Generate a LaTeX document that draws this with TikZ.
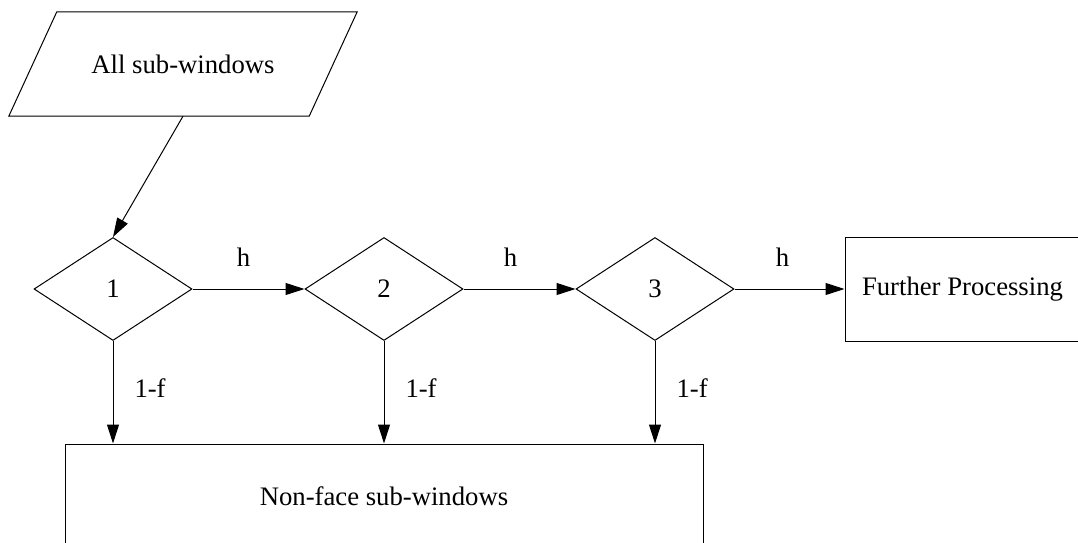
\documentclass[tikz,border=0pt]{standalone}
\usepackage{fontspec}
\setmainfont{Liberation Serif}
\usetikzlibrary{shapes.geometric,arrows.meta}
\begin{document}
\begin{tikzpicture}[x=1pt,y=-1pt,
  every node/.style={font=\fontsize{26.7pt}{30pt}\selectfont},
  link/.style={line width=1pt,-{Triangle[length=19pt,width=12pt]}},
  dec/.style={draw,line width=1pt,diamond,inner sep=0pt,minimum width=158pt,minimum height=103pt},
  boxn/.style={draw,line width=1pt,rectangle,inner sep=0pt},
  lbl/.style={inner sep=0pt}]
\clip (0,0) rectangle (1078,543);
\fill[white] (0,0) rectangle (1078,543);
% input parallelogram
\node[lbl,minimum width=300pt,minimum height=104pt] (src) at (183,64) {All sub-windows};
\draw[line width=1pt] ([xshift=-24pt]src.south west) -- ([xshift=24pt]src.north west)
  -- ([xshift=24pt]src.north east) -- ([xshift=-24pt]src.south east) -- cycle;
% decisions
\node[dec] (d1) at (113,289) {1};
\node[dec] (d2) at (384,289) {2};
\node[dec] (d3) at (655,289) {3};
% boxes
\node[boxn,minimum width=235pt,minimum height=104pt] (fp) at (962.5,289) {Further Processing};
\node[boxn,minimum width=638pt,minimum height=104pt] (nf) at (384,496) {Non-face sub-windows};
% connectors
\draw[link] (src.south) -- (d1.north);
\draw[link] (d1.east) -- node[lbl,above=22pt,xshift=-5pt]{h} (d2.west);
\draw[link] (d2.east) -- node[lbl,above=22pt,xshift=-9pt]{h} (d3.west);
\draw[link] (d3.east) -- node[lbl,above=22pt,xshift=-7pt]{h} (fp.west);
\draw[link] (d1.south) -- node[lbl,right=21pt,yshift=4pt]{1-f} (d1.south |- nf.north);
\draw[link] (d2.south) -- node[lbl,right=21pt,yshift=4pt]{1-f} (d2.south |- nf.north);
\draw[link] (d3.south) -- node[lbl,right=21pt,yshift=4pt]{1-f} (d3.south |- nf.north);
\end{tikzpicture}
\end{document}
